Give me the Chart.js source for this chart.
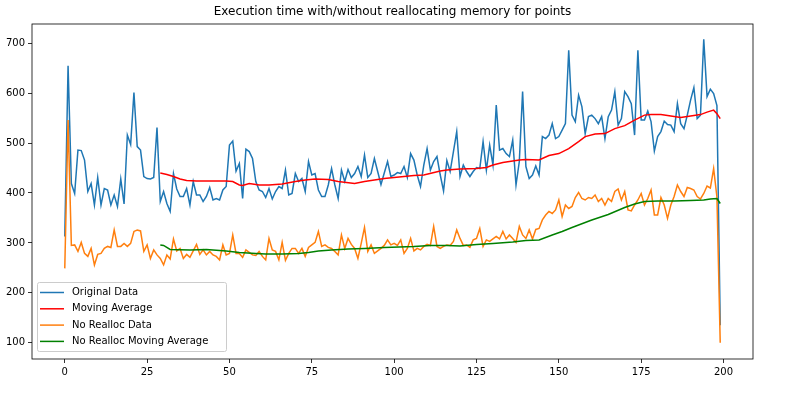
<!DOCTYPE html>
<html>
<head>
<meta charset="utf-8">
<script src="https://cdn.jsdelivr.net/npm/chart.js@4/dist/chart.umd.min.js"></script>
<style>
  body { margin: 0; background: #fff; }
  canvas { display: block; }
</style>
</head>
<body>
<canvas id="chart" width="800" height="400"></canvas>
<script>
const chartTitle = 'Execution time with/without reallocating memory for points';

// original data, one value per point index 0..199
const originalData = [
  313, 655, 419, 399, 486, 485, 466, 403, 419, 376, 431, 376, 409, 406, 376, 396, 373, 428, 378, 516,
  497, 601, 493, 486, 433, 429, 428, 431, 531, 383, 403, 379, 363, 439, 408, 393, 393, 409, 376, 423,
  396, 396, 383, 393, 411, 386, 389, 386, 406, 413, 496, 504, 444, 459, 389, 488, 483, 469, 423, 406,
  403, 391, 409, 388, 403, 413, 409, 446, 396, 399, 439, 423, 429, 403, 463, 436, 439, 406, 393, 393,
  416, 449, 416, 389, 446, 423, 447, 431, 439, 453, 433, 476, 431, 439, 469, 443, 417, 440, 463, 433,
  436, 441, 439, 453, 431, 479, 466, 436, 413, 456, 489, 446, 463, 473, 436, 404, 465, 443, 483, 523,
  433, 456, 443, 433, 443, 451, 449, 503, 446, 496, 456, 576, 486, 489, 479, 473, 506, 416, 463, 603,
  453, 429, 436, 454, 436, 513, 509, 516, 539, 509, 513, 526, 539, 686, 556, 543, 596, 573, 519, 553,
  556, 549, 539, 553, 509, 553, 566, 603, 536, 549, 603, 593, 579, 516, 686, 546, 546, 564, 543, 484,
  513, 523, 544, 537, 536, 523, 579, 539, 529, 556, 586, 611, 549, 556, 708, 593, 608, 599, 575, 135
];

// no realloc data, one value per point index 0..199
const noReallocData = [
  249, 546, 295, 296, 283, 301, 279, 273, 289, 256, 277, 279, 289, 293, 291, 326, 293, 293, 299, 293,
  299, 323, 326, 324, 283, 296, 269, 286, 276, 269, 256, 276, 268, 308, 284, 289, 269, 277, 271, 284,
  297, 277, 286, 276, 283, 276, 273, 266, 296, 276, 279, 316, 279, 279, 271, 286, 281, 276, 275, 283,
  273, 266, 309, 286, 283, 266, 301, 265, 279, 289, 289, 279, 289, 273, 291, 296, 301, 323, 293, 296,
  291, 289, 283, 276, 316, 289, 309, 297, 289, 269, 299, 331, 283, 296, 279, 284, 289, 295, 306, 296,
  299, 295, 306, 279, 289, 309, 284, 289, 286, 293, 297, 295, 333, 293, 289, 293, 296, 295, 303, 326,
  309, 295, 296, 291, 306, 309, 329, 293, 306, 303, 308, 313, 308, 323, 308, 316, 309, 301, 333, 316,
  309, 326, 308, 327, 329, 346, 356, 363, 359, 366, 386, 353, 376, 369, 373, 391, 401, 389, 386, 391,
  389, 396, 383, 389, 376, 389, 383, 403, 408, 386, 403, 366, 364, 376, 386, 399, 376, 389, 406, 356,
  356, 391, 376, 349, 376, 393, 416, 403, 393, 411, 409, 406, 393, 388, 399, 414, 410, 449, 392, 100
];

// moving averages at these point indices
const movingAvgIdx = [29, 31, 33, 35, 37, 40, 45, 49, 51, 53, 54, 56, 59, 62, 66, 70, 73, 76, 80, 83,
  88, 91, 94, 97, 100, 106, 109, 114, 116, 120, 125, 128, 130, 133, 136, 138, 140, 144, 147, 150,
  153, 156, 158, 161, 164, 167, 170, 173, 176, 178, 181, 184, 187, 190, 193, 195, 197, 198, 199];
const movingAvgVals = [440, 437, 433, 428, 425, 424, 424, 424, 423, 416, 415, 419, 416, 416, 418, 423, 426, 428, 427, 423,
  419, 423, 426, 429, 431, 435, 436, 444, 446, 448, 449, 451, 456, 461, 464, 466, 467, 466, 475, 479,
  489, 503, 513, 518, 519, 529, 535, 546, 556, 557, 557, 554, 551, 554, 557, 562, 566, 559, 549];

const noReallocAvgIdx = [29, 30, 32, 38, 43, 49, 53, 58, 61, 66, 71, 74, 77, 81, 86, 91, 97, 106, 111, 116,
  120, 125, 130, 136, 140, 144, 148, 151, 154, 156, 160, 165, 170, 173, 176, 180, 185, 190, 194, 196, 198, 199];
const noReallocAvgVals = [296, 295, 287, 286, 287, 284, 281, 279, 278, 278, 279, 281, 284, 286, 288, 289, 291, 293, 295, 295,
  294, 297, 299, 302, 305, 306, 316, 323, 331, 336, 346, 357, 371, 378, 383, 384, 384, 385, 386, 388, 389, 379];

const xTicks = [0, 25, 50, 75, 100, 125, 150, 175, 200];
const yTicks = [100, 200, 300, 400, 500, 600, 700];

const font = "'DejaVu Sans', sans-serif";

function toPoints(vals, idx) {
  return vals.map((v, i) => ({ x: idx ? idx[i] : i, y: v }));
}

// frame on all four sides, and the title over the axes
const framePlugin = {
  id: 'frame',
  afterDraw(chart) {
    const { ctx, chartArea: a } = chart;
    ctx.save();
    ctx.strokeStyle = '#000';
    ctx.lineWidth = 0.8;
    ctx.strokeRect(a.left, a.top, a.right - a.left, a.bottom - a.top);
    ctx.fillStyle = '#000';
    ctx.font = '12px ' + font;
    ctx.textAlign = 'center';
    ctx.textBaseline = 'middle';
    ctx.fillText(chartTitle, (a.left + a.right) / 2, 12);
    ctx.restore();
  }
};

// legend box in the lower left corner like matplotlib's
const legendPlugin = {
  id: 'boxLegend',
  afterDraw(chart) {
    const ctx = chart.ctx;
    const x = 37.5, y = 282.5, w = 189, h = 69;
    ctx.save();
    ctx.fillStyle = 'rgba(255,255,255,0.8)';
    ctx.strokeStyle = '#cccccc';
    ctx.lineWidth = 1;
    ctx.beginPath();
    ctx.roundRect(x, y, w, h, 2);
    ctx.fill();
    ctx.stroke();
    ctx.font = '10px ' + font;
    ctx.textBaseline = 'middle';
    ctx.textAlign = 'left';
    chart.data.datasets.forEach((ds, i) => {
      const ry = 292.5 + i * 16.3;
      ctx.strokeStyle = ds.borderColor;
      ctx.lineWidth = 1.5;
      ctx.beginPath();
      ctx.moveTo(40, ry);
      ctx.lineTo(64, ry);
      ctx.stroke();
      ctx.fillStyle = '#000';
      ctx.fillText(ds.label, 72, ry);
    });
    ctx.restore();
  }
};

const lineStyle = { borderWidth: 1.5, pointRadius: 0, tension: 0, fill: false };

new Chart(document.getElementById('chart'), {
  type: 'line',
  data: {
    datasets: [
      { label: 'Original Data', data: toPoints(originalData), borderColor: '#1f77b4', order: 4, ...lineStyle },
      { label: 'Moving Average', data: toPoints(movingAvgVals, movingAvgIdx), borderColor: '#ff0000', order: 3, ...lineStyle },
      { label: 'No Realloc Data', data: toPoints(noReallocData), borderColor: '#ff7f0e', order: 2, ...lineStyle },
      { label: 'No Realloc Moving Average', data: toPoints(noReallocAvgVals, noReallocAvgIdx), borderColor: '#008000', order: 1, ...lineStyle }
    ]
  },
  options: {
    responsive: false,
    animation: false,
    layout: { padding: { top: 24, right: 47, left: 0, bottom: 0 } },
    plugins: { legend: { display: false }, title: { display: false }, tooltip: { enabled: false } },
    scales: {
      x: {
        type: 'linear',
        min: -9.95,
        max: 208.95,
        afterBuildTicks: s => { s.ticks = xTicks.map(v => ({ value: v })); },
        afterFit: s => { s.height = 41; },
        grid: { drawOnChartArea: false, tickLength: 4, tickColor: '#000', lineWidth: 0.8 },
        border: { display: false },
        ticks: { color: '#000', font: { family: font, size: 10 }, padding: 3, maxRotation: 0 }
      },
      y: {
        min: 67.5,
        max: 738.5,
        afterBuildTicks: s => { s.ticks = yTicks.map(v => ({ value: v })); },
        afterFit: s => { s.width = 32; },
        grid: { drawOnChartArea: false, tickLength: 4, tickColor: '#000', lineWidth: 0.8 },
        border: { display: false },
        ticks: { color: '#000', font: { family: font, size: 10 }, padding: 3 }
      }
    }
  },
  plugins: [framePlugin, legendPlugin]
});
</script>
</body>
</html>
